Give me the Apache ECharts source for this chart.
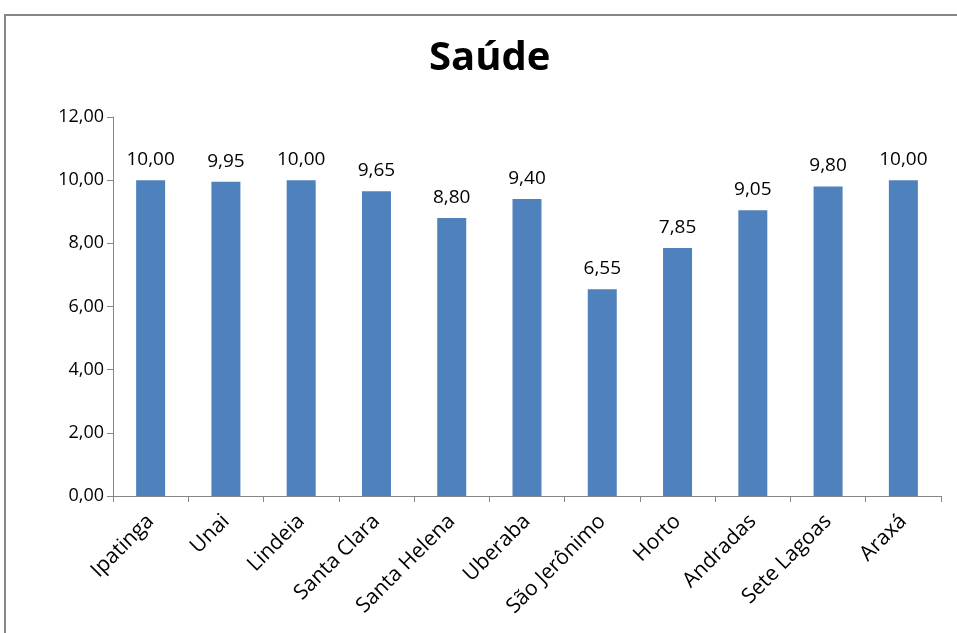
<!DOCTYPE html>
<html>
<head>
<meta charset="utf-8">
<script src="https://cdn.jsdelivr.net/npm/echarts@6/dist/echarts.min.js"></script>
<style>
html,body{margin:0;padding:0;background:#fff;}
#chart{width:957px;height:633px;}
</style>
</head>
<body>
<div id="chart"></div>
<script>
var cidades = ['Ipatinga','Unai','Lindeia','Santa Clara','Santa Helena','Uberaba','São Jerônimo','Horto','Andradas','Sete Lagoas','Araxá'];
var notas = [10.00, 9.95, 10.00, 9.65, 8.80, 9.40, 6.55, 7.85, 9.05, 9.80, 10.00];
var titulo = 'Saúde';

function fmt(v){
    return v.toFixed(2).replace('.', ',');
}

var myChart = echarts.init(document.getElementById('chart'));
var option = {
    animation: false,
    backgroundColor: '#fff',
    title: {
        text: titulo,
        left: 424,
        top: 34,
        textStyle: {fontFamily: 'Open Sans', fontSize: 40, fontWeight: 'bold', color: '#000'}
    },
    graphic: [{
        type: 'rect',
        shape: {x: 5, y: 15, width: 1000, height: 700},
        style: {fill: 'none', stroke: '#868686', lineWidth: 2},
        silent: true
    }],
    grid: {left: 113, right: 16, top: 117, bottom: 137},
    xAxis: {
        type: 'category',
        data: cidades,
        axisLine: {lineStyle: {color: '#868686', width: 1}},
        axisTick: {show: true, alignWithLabel: false, length: 6, lineStyle: {color: '#868686'}},
        axisLabel: {rotate: 45, interval: 0, margin: 22, color: '#000', fontFamily: 'Open Sans', fontSize: 21}
    },
    yAxis: {
        type: 'value',
        min: 0,
        max: 12,
        interval: 2,
        axisLine: {show: true, lineStyle: {color: '#868686'}},
        axisTick: {show: true, length: 6, lineStyle: {color: '#868686'}},
        splitLine: {show: false},
        axisLabel: {margin: 9, color: '#000', fontFamily: 'Open Sans', fontSize: 18, formatter: fmt}
    },
    series: [{
        type: 'bar',
        data: notas,
        barWidth: 29,
        itemStyle: {color: '#4F81BD'},
        label: {
            show: true,
            position: 'top',
            distance: 11,
            color: '#000',
            fontFamily: 'Open Sans',
            fontSize: 19,
            formatter: function(p){ return fmt(p.value); }
        }
    }]
};
myChart.setOption(option);
</script>
</body>
</html>
